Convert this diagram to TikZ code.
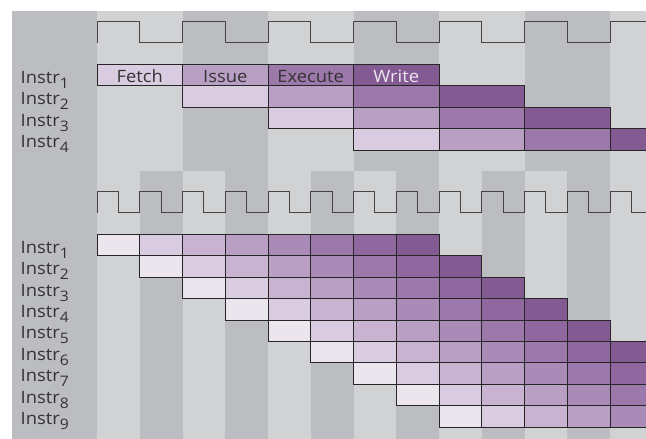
\documentclass[tikz,border=0pt]{standalone}
\usepackage{fontspec}
\setmainfont{Open Sans}[FakeStretch=1.08]
\definecolor{bgd}{HTML}{BCBDC0}
\definecolor{bgl}{HTML}{D1D2D4}
\definecolor{clkline}{HTML}{444444}
\definecolor{cellline}{HTML}{262626}
\definecolor{labtext}{HTML}{333333}
\definecolor{writetext}{HTML}{EEE8F2}
\definecolor{st1}{HTML}{EBE5EE}
\definecolor{st2}{HTML}{D9CBE0}
\definecolor{st3}{HTML}{C8B4D1}
\definecolor{st4}{HTML}{B99FC4}
\definecolor{st5}{HTML}{AA8AB7}
\definecolor{st6}{HTML}{9D78AA}
\definecolor{st7}{HTML}{90689F}
\definecolor{st8}{HTML}{845A93}
\colorlet{tp1}{st2}
\colorlet{tp2}{st4}
\colorlet{tp3}{st6}
\colorlet{tp4}{st8}
\newcommand\instsub[1]{\raisebox{-5pt}{\fontsize{14.5}{14.5}\selectfont #1}}
\begin{document}
\begin{tikzpicture}[x=1pt,y=-1pt,
  clk/.style={draw=clkline, line width=0.8pt},
  cellbase/.style={draw=cellline, line width=0.8pt, inner sep=0pt, outer sep=0pt, anchor=north west,
    text height=15.8pt, text depth=0pt, font=\fontsize{17}{17}\selectfont},
  topcell/.style={cellbase, minimum width=85.5pt, minimum height=21.5pt},
  botcell/.style={cellbase, minimum width=42.75pt, minimum height=21.4pt},
  lab/.style={anchor=base west, inner sep=0pt, text=labtext, font=\fontsize{17}{17}\selectfont}]
\useasboundingbox (0,0) rectangle (646,439);
\fill[white] (0,0) rectangle (646,439);
\fill[bgd] (12,11) rectangle (646,439);
\begin{scope}
\clip (12,11) rectangle (646,439);
% background columns, top section
\foreach \i in {0,...,6} {
  \pgfmathsetmacro\xa{97+85.5*\i}
  \ifodd\i \fill[bgd] (\xa,11) rectangle ++(85.5,159.5);
  \else \fill[bgl] (\xa,11) rectangle ++(85.5,159.5); \fi
}
% background columns, bottom section
\foreach \i in {0,...,13} {
  \pgfmathsetmacro\xa{97+42.75*\i}
  \ifodd\i \fill[bgd] (\xa,170.5) rectangle ++(42.75,268.5);
  \else \fill[bgl] (\xa,170.5) rectangle ++(42.75,268.5); \fi
}
% clocks
\draw[clk] (97,42.7) \foreach \i in {0,...,6} { -- ++(0,-21.7) -- ++(42.75,0) -- ++(0,21.7) -- ++(42.75,0) };
\draw[clk] (97,212.7) \foreach \i in {0,...,13} { -- ++(0,-21.7) -- ++(21.375,0) -- ++(0,21.7) -- ++(21.375,0) };
% top pipeline
\foreach \r in {2,...,4} {
  \foreach \s in {1,...,4} {
    \pgfmathsetmacro\xa{97+85.5*(\r+\s-2)}
    \pgfmathsetmacro\ya{64+21.5*(\r-1)}
    \node[topcell, fill=tp\s] (top-\r-\s) at (\xa,\ya) {};
  }
}
\node[topcell, fill=tp1, text=labtext] (top-1-1) at (97,64) {Fetch};
\node[topcell, fill=tp2, text=labtext] (top-1-2) at (182.5,64) {Issue};
\node[topcell, fill=tp3, text=labtext] (top-1-3) at (268,64) {Execute};
\node[topcell, fill=tp4, text=writetext] (top-1-4) at (353.5,64) {Write};
% bottom pipeline
\foreach \r in {1,...,9} {
  \foreach \s in {1,...,8} {
    \pgfmathsetmacro\xa{97+42.75*(\r+\s-2)}
    \pgfmathsetmacro\ya{234.3+21.4*(\r-1)}
    \node[botcell, fill=st\s] (bot-\r-\s) at (\xa,\ya) {};
  }
}
\end{scope}
% labels
\foreach \r in {1,...,4} {
  \pgfmathsetmacro\ya{83.3+21.5*(\r-1)}
  \node[lab] (toplab-\r) at (20.5,\ya) {Instr\instsub{\r}};
}
\foreach \r in {1,...,9} {
  \pgfmathsetmacro\ya{253.3+21.4*(\r-1)}
  \node[lab] (botlab-\r) at (20.5,\ya) {Instr\instsub{\r}};
}
\end{tikzpicture}
\end{document}
